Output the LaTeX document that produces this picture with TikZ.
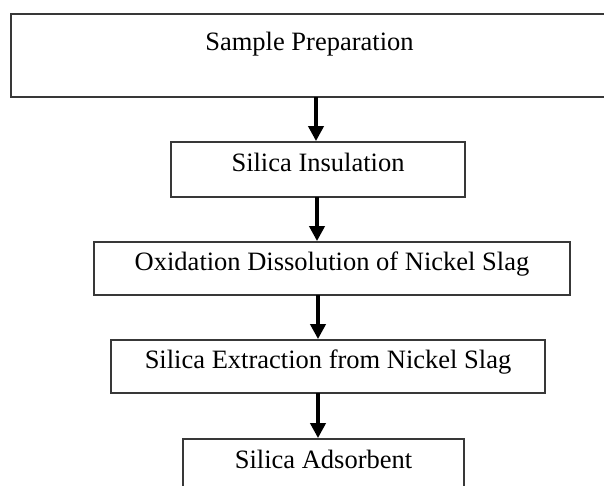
\documentclass[tikz,border=0pt]{standalone}
\usepackage{fontspec}
\setmainfont{Liberation Serif}
\usetikzlibrary{arrows.meta}
\begin{document}
\begin{tikzpicture}[x=1pt,y=-1pt,
  box/.style={draw=black!78, line width=1.8pt, fill=white, inner sep=0pt, outer sep=0pt,
    font=\fontsize{26.5}{30}\selectfont, text height=0.7em, text depth=0.25em},
  lbl/.style={inner sep=0pt, font=\fontsize{26.5}{30}\selectfont, text height=0.7em, text depth=0.25em},
  arr/.style={line width=4pt, black, -{Triangle[width=15pt,length=15pt]}, shorten >=0.9pt}]
\useasboundingbox (0,0) rectangle (604,486);
\node[box, minimum width=597pt, minimum height=83pt] (b1) at (309.5,55.5) {};
\node[lbl] (t1) at (309.5,48) {Sample Preparation};
\node[box, minimum width=294pt, minimum height=55pt] (b2) at (318,169.5) {Silica Insulation};
\node[box, minimum width=476pt, minimum height=53pt] (b3) at (332,268.5) {Oxidation Dissolution of Nickel Slag};
\node[box, minimum width=434pt, minimum height=53pt] (b4) at (328,366.5) {Silica Extraction from Nickel Slag};
\node[box, minimum width=281pt, minimum height=55pt] (b5) at (323.5,466.5) {Silica Adsorbent};
\coordinate (a1) at (316,0);
\coordinate (a2) at (317,0);
\coordinate (a3) at (318,0);
\draw[arr] (b1.south -| a1) -- (b2.north -| a1);
\draw[arr] (b2.south -| a2) -- (b3.north -| a2);
\draw[arr] (b3.south -| a3) -- (b4.north -| a3);
\draw[arr] (b4.south -| a3) -- (b5.north -| a3);
\end{tikzpicture}
\end{document}
